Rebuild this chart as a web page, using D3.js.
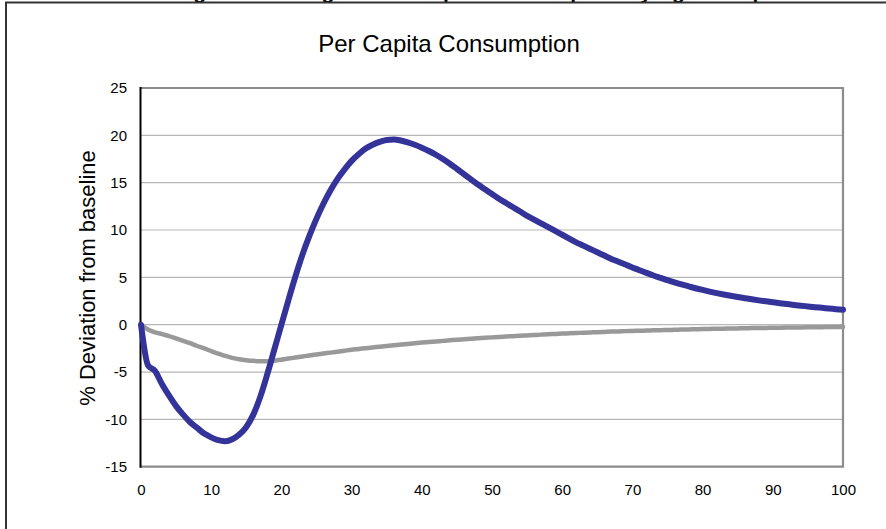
<!DOCTYPE html>
<html><head><meta charset="utf-8">
<script src="https://cdn.jsdelivr.net/npm/d3@7"></script>
<style>body{margin:0;background:#fff}svg{display:block;font-family:"Liberation Sans",Arial,sans-serif}</style>
</head><body><svg id="c" width="886" height="529"></svg>
<script>
const years = d3.range(0, 101);
const blueValues = [0,-4.3,-4.9,-6.3,-7.5,-8.6,-9.5,-10.3,-10.9,-11.5,-11.9,-12.2,-12.3,-12.1,-11.6,-10.8,-9.5,-7.6,-5.2,-2.6,
0.0,2.6,5.1,7.4,9.4,11.2,12.8,14.2,15.4,16.4,17.3,18.0,18.6,19.0,19.3,19.5,19.55,19.45,19.25,19.0,
18.7,18.35,17.95,17.5,17.0,16.45,15.9,15.35,14.8,14.3,13.8,13.3,12.85,12.4,11.95,11.5,11.1,10.7,10.3,9.9,
9.5,9.1,8.7,8.35,8.0,7.65,7.3,6.95,6.65,6.35,6.05,5.75,5.47,5.2,4.95,4.7,4.47,4.25,4.05,3.85,
3.67,3.5,3.34,3.19,3.05,2.92,2.8,2.68,2.57,2.47,2.37,2.27,2.18,2.09,2.01,1.93,1.85,1.78,1.71,1.64,1.57];
const grayValues = [0,-0.5,-0.8,-1.0,-1.2,-1.45,-1.7,-1.95,-2.25,-2.5,-2.8,-3.05,-3.3,-3.5,-3.65,-3.75,-3.82,-3.85,-3.85,-3.8,
-3.7,-3.58,-3.47,-3.36,-3.25,-3.15,-3.05,-2.95,-2.85,-2.75,-2.65,-2.57,-2.48,-2.4,-2.32,-2.24,-2.17,-2.1,-2.03,-1.96,
-1.89,-1.83,-1.77,-1.71,-1.65,-1.59,-1.54,-1.49,-1.44,-1.39,-1.34,-1.29,-1.25,-1.21,-1.17,-1.13,-1.09,-1.05,-1.01,-0.98,
-0.94,-0.91,-0.88,-0.85,-0.82,-0.79,-0.76,-0.73,-0.71,-0.68,-0.66,-0.64,-0.62,-0.6,-0.58,-0.56,-0.54,-0.52,-0.5,-0.48,
-0.46,-0.45,-0.43,-0.42,-0.4,-0.39,-0.38,-0.36,-0.35,-0.34,-0.33,-0.32,-0.31,-0.3,-0.29,-0.28,-0.27,-0.26,-0.25,-0.24,-0.23];
const xTicks = [0,10,20,30,40,50,60,70,80,90,100];
const yTicks = [-15,-10,-5,0,5,10,15,20,25];
const chartTitle = "Per Capita Consumption";
const yTitle = "% Deviation from baseline";
const clippedTitle = "Figure 4: Change in Per Capita Consumption by Age Group";

const svg = d3.select("#c");
const L = 141, R = 843, T = 88, B = 466.7;
const x = d3.scaleLinear().domain([0,100]).range([L,R]);
const y = d3.scaleLinear().domain([-15,25]).range([B,T]);

// clipped heading at top (cut off by the page edge, as in the source)
svg.append("text").attr("x", 470).attr("y", -1).attr("text-anchor","middle")
  .attr("font-size", 21).attr("font-weight","bold").attr("fill","#000").text(clippedTitle);
// outer frame
svg.append("path").attr("d", `M6,530 V2.5 H890`).attr("fill","none").attr("stroke","#333").attr("stroke-width",2);

// gridlines
svg.append("g").selectAll("line").data(yTicks.filter(d=>d>-15 && d<25)).join("line")
  .attr("x1",L).attr("x2",R).attr("y1",d=>y(d)).attr("y2",d=>y(d))
  .attr("stroke","#b8b8b8").attr("stroke-width",1.2);

// plot frame
svg.append("path").attr("d",`M${L},${T} H${R} V${B} H${L}`).attr("fill","none").attr("stroke","#8c8c8c").attr("stroke-width",2.2);
svg.append("line").attr("x1",L-0.5).attr("x2",L-0.5).attr("y1",T-1).attr("y2",B+1).attr("stroke","#000").attr("stroke-width",2);

const fmt = d => String(d);
const ya = svg.append("g").attr("transform",`translate(${L},0)`)
  .call(d3.axisLeft(y).tickValues(yTicks).tickFormat(fmt).tickSize(0).tickPadding(14));
ya.select(".domain").remove();
ya.selectAll("text").attr("font-size",15).attr("font-family","Liberation Sans, Arial").attr("fill","#000");
const xa = svg.append("g").attr("transform",`translate(0,${B})`)
  .call(d3.axisBottom(x).tickValues(xTicks).tickFormat(fmt).tickSize(0).tickPadding(18));
xa.select(".domain").remove();
xa.selectAll("text").attr("font-size",15).attr("font-family","Liberation Sans, Arial").attr("fill","#000");

// lines
const line = d3.line().x((d,i)=>x(years[i])).y(d=>y(d)).curve(d3.curveMonotoneX);
svg.append("path").attr("d", line(grayValues)).attr("fill","none").attr("stroke","#999999")
  .attr("stroke-width",4.5).attr("stroke-linejoin","round").attr("stroke-linecap","round");
svg.append("path").attr("d", line(blueValues)).attr("fill","none").attr("stroke","#333399")
  .attr("stroke-width",6).attr("stroke-linejoin","round").attr("stroke-linecap","round");

// titles
svg.append("text").attr("x",449).attr("y",52).attr("text-anchor","middle").attr("font-size",24).attr("fill","#000").text(chartTitle);
svg.append("text").attr("transform",`translate(95,278) rotate(-90)`).attr("text-anchor","middle").attr("font-size",22).attr("fill","#000").text(yTitle);
</script></body></html>
